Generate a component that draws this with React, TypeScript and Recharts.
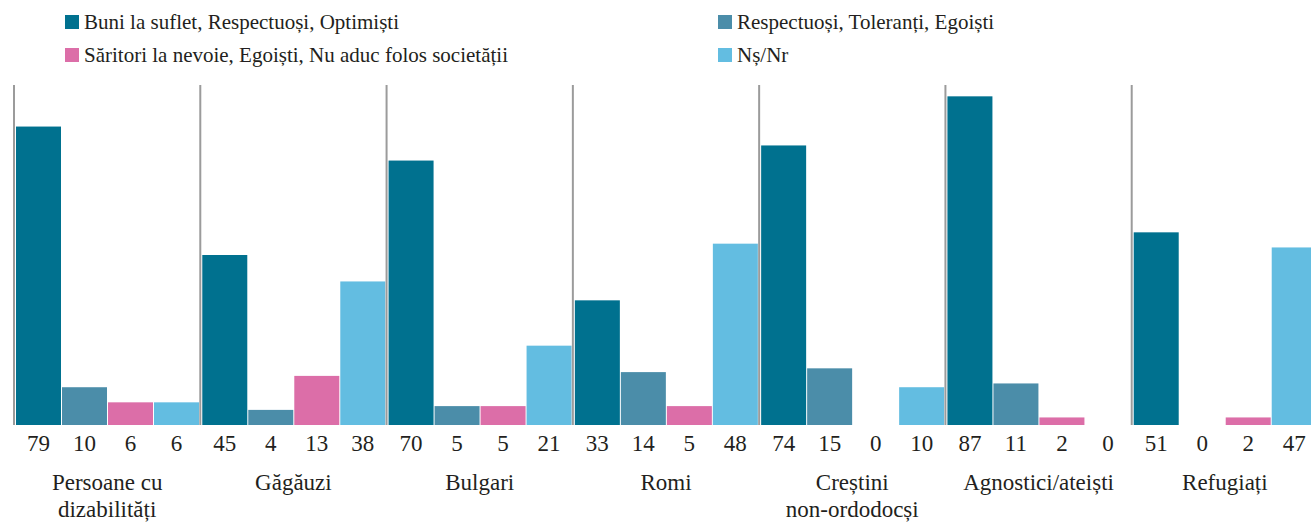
import { BarChart, Bar, XAxis, YAxis, LabelList } from "recharts";

const groups = [
  "Persoane cu\ndizabilități",
  "Găgăuzi",
  "Bulgari",
  "Romi",
  "Creștini\nnon-ordodocși",
  "Agnostici/ateiști",
  "Refugiați",
];
const buni = [79, 45, 70, 33, 74, 87, 51];
const respectuosi = [10, 4, 5, 14, 15, 11, 0];
const saritori = [6, 13, 5, 5, 0, 2, 2];
const nsnr = [6, 38, 21, 48, 10, 0, 47];

const seriesNames = [
  "Buni la suflet, Respectuoși, Optimiști",
  "Respectuoși, Toleranți, Egoiști",
  "Săritori la nevoie, Egoiști, Nu aduc folos societății",
  "Nș/Nr",
];
const KEYS = ["s0", "s1", "s2", "s3"];
const COLORS = ["#00718f", "#4b8da9", "#dc6ea8", "#63bde1"];

const data = groups.map((g, i) => ({
  name: g,
  s0: buni[i],
  s1: respectuosi[i],
  s2: saritori[i],
  s3: nsnr[i],
}));

const FONT = '"Liberation Serif", serif';
const TEXT = "#231f20";
const CHART_W = 1318;
const M_LEFT = 14;
const PLOT_H = 340;
const BAND = (CHART_W - M_LEFT) / groups.length;

// tick kategori + garis pemisah abu-abu di kiri tiap grup
function GroupTick(props: any) {
  const { x, y, payload } = props;
  const lines = String(payload.value).split("\n");
  const left = x - BAND / 2;
  return (
    <g>
      <line x1={left} x2={left} y1={y} y2={y - PLOT_H} stroke="#9b9b9b" strokeWidth={2} />
      <text x={x} y={y + 65} textAnchor="middle" fill={TEXT} fontFamily={FONT} fontSize={23}>
        {lines.map((l, i) => (
          <tspan key={i} x={x} dy={i ? 27 : 0}>
            {l}
          </tspan>
        ))}
      </text>
    </g>
  );
}

function ValueLabel(props: any) {
  const vb = props.viewBox ?? props;
  const x = vb.x ?? props.x;
  const y = vb.y ?? props.y;
  const w = vb.width ?? props.width;
  const h = vb.height ?? props.height ?? 0;
  return (
    <text x={x + w / 2} y={y + h + 26} textAnchor="middle" fill={TEXT} fontFamily={FONT} fontSize={23}>
      {String(props.value)}
    </text>
  );
}

// bar nol tetap punya label, tapi batangnya tidak digambar
function makeShape(k: string) {
  return (p: any) => {
    if (p.payload?.[k] === 0) return <g />;
    return <rect x={p.x} y={p.y} width={p.width} height={p.height} fill={p.fill} />;
  };
}

function LegendBox() {
  const pos = [
    { left: 65, top: 8 },
    { left: 718, top: 8 },
    { left: 65, top: 41 },
    { left: 718, top: 41 },
  ];
  return (
    <div style={{ position: "relative", height: 78 }}>
      {seriesNames.map((n, i) => (
        <div
          key={n}
          style={{
            position: "absolute",
            left: pos[i].left,
            top: pos[i].top,
            height: 28,
            display: "flex",
            alignItems: "center",
            whiteSpace: "nowrap",
            fontFamily: FONT,
            fontSize: 21,
            color: TEXT,
          }}
        >
          <span style={{ width: 14, height: 14, background: COLORS[i], marginRight: 5, display: "inline-block" }} />
          {n}
        </div>
      ))}
    </div>
  );
}

export default function App() {
  return (
    <div
      style={{
        position: "fixed",
        left: 0,
        top: 0,
        width: 1311,
        height: 523,
        overflow: "hidden",
        fontFamily: FONT,
        background: "#fff",
      }}
    >
      <LegendBox />
      <BarChart
        width={CHART_W}
        height={445}
        data={data}
        margin={{ top: 7, right: 0, left: M_LEFT, bottom: 8 }}
        barCategoryGap={2}
        barGap={1}
      >
        <XAxis
          dataKey="name"
          height={90}
          axisLine={false}
          tickLine={false}
          tickSize={0}
          tickMargin={0}
          interval={0}
          tick={<GroupTick />}
        />
        <YAxis hide domain={[0, 90]} />
        {KEYS.map((k, i) => (
          <Bar key={k} dataKey={k} fill={COLORS[i]} minPointSize={1} shape={makeShape(k)} isAnimationActive={false}>
            <LabelList dataKey={k} content={<ValueLabel />} />
          </Bar>
        ))}
      </BarChart>
    </div>
  );
}
